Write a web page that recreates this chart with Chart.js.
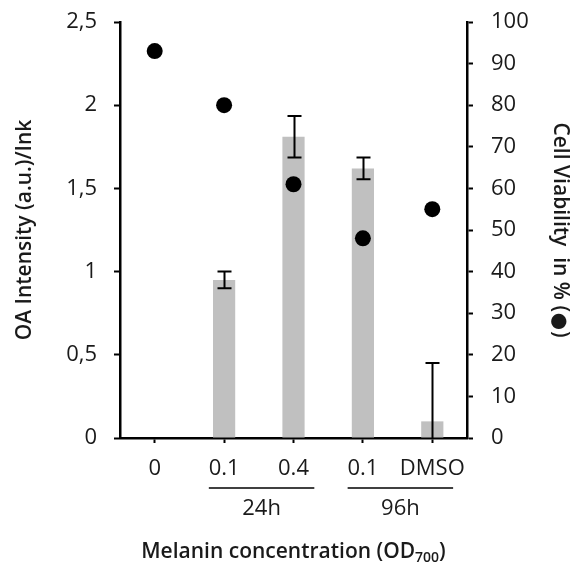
<!DOCTYPE html>
<html>
<head>
<meta charset="utf-8">
<script src="https://cdn.jsdelivr.net/npm/chart.js@4"></script>
<style>
  html, body { margin: 0; padding: 0; background: #fff; }
  #wrap { width: 581px; height: 565px; }
</style>
</head>
<body>
<div id="wrap"><canvas id="chart" width="581" height="565"></canvas></div>
<script>
var categories = ['0', '0.1', '0.4', '0.1', 'DMSO'];
var oaIntensity = [null, 0.95, 1.81, 1.62, 0.10];
var oaError = [null, 0.05, 0.125, 0.065, 0.35];
var viability = [93, 80, 61, 48, 55];
var groupLabels = ['24h', '96h'];
var groupFrom = [1, 3];
var groupTo = [2, 4];

var FONT = "'Open Sans', sans-serif";
var TEXT = '#1a1a1a';

var extras = {
  id: 'extras',
  afterDatasetsDraw: function(chart) {
    var ctx = chart.ctx, x = chart.scales.x, y = chart.scales.y;
    ctx.save();
    ctx.strokeStyle = '#000';
    ctx.lineWidth = 2;
    oaIntensity.forEach(function(v, i) {
      if (v == null) return;
      var px = Math.round(x.getPixelForValue(i)) + 0.5;
      var top = y.getPixelForValue(v + oaError[i]);
      var low = v - oaError[i];
      var bot = y.getPixelForValue(Math.max(low, 0));
      ctx.beginPath();
      ctx.moveTo(px, top); ctx.lineTo(px, bot);
      ctx.moveTo(px - 7, top); ctx.lineTo(px + 7, top);
      if (low > 0) { ctx.moveTo(px - 7, bot); ctx.lineTo(px + 7, bot); }
      ctx.stroke();
    });
    ctx.restore();
  },
  afterDraw: function(chart) {
    var ctx = chart.ctx, x = chart.scales.x, area = chart.chartArea;
    var step = x.getPixelForValue(1) - x.getPixelForValue(0);
    ctx.save();
    ctx.strokeStyle = '#000';
    ctx.lineWidth = 1.5;
    ctx.fillStyle = TEXT;
    ctx.font = '22px ' + FONT;
    ctx.textAlign = 'center';
    ctx.textBaseline = 'middle';
    var lineY = area.bottom + 50;
    groupLabels.forEach(function(lbl, g) {
      var x0 = x.getPixelForValue(groupFrom[g]) - step * 0.22;
      var x1 = x.getPixelForValue(groupTo[g]) + step * 0.3;
      ctx.beginPath();
      ctx.moveTo(x0, lineY); ctx.lineTo(x1, lineY);
      ctx.stroke();
      ctx.fillText(lbl, (x0 + x1) / 2, lineY + 21);
    });
    // x axis title with subscript
    var main = 'Melanin concentration (OD';
    var sub = '700';
    var end = ')';
    ctx.font = '600 21px ' + FONT;
    var wMain = ctx.measureText(main).width;
    var wEnd = ctx.measureText(end).width;
    ctx.font = '600 14px ' + FONT;
    var wSub = ctx.measureText(sub).width;
    var cx = (area.left + area.right) / 2;
    var ty = area.bottom + 113;
    var sx = cx - (wMain + wSub + wEnd) / 2;
    ctx.textAlign = 'left';
    ctx.textBaseline = 'alphabetic';
    ctx.font = '600 21px ' + FONT;
    ctx.fillText(main, sx, ty + 7);
    ctx.font = '600 14px ' + FONT;
    ctx.fillText(sub, sx + wMain, ty + 11);
    ctx.font = '600 21px ' + FONT;
    ctx.fillText(end, sx + wMain + wSub, ty + 7);
    ctx.restore();

    // right axis title, with a bigger dot symbol
    var t1 = 'Cell Viability  in % (';
    var dot = '\u2B24';
    var t2 = ')';
    ctx.save();
    ctx.fillStyle = TEXT;
    ctx.translate(chart.width - 21, (area.top + area.bottom) / 2);
    ctx.rotate(Math.PI / 2);
    ctx.textBaseline = 'middle';
    ctx.textAlign = 'left';
    ctx.font = '600 21px ' + FONT;
    var w1 = ctx.measureText(t1).width;
    var w2 = ctx.measureText(t2).width;
    ctx.font = "15px 'DejaVu Sans', sans-serif";
    var wd = ctx.measureText(dot).width;
    var start = -(w1 + wd + w2 + 2) / 2;
    ctx.font = '600 21px ' + FONT;
    ctx.fillText(t1, start, 0);
    ctx.font = "15px 'DejaVu Sans', sans-serif";
    ctx.fillText(dot, start + w1 + 1, 1);
    ctx.font = '600 21px ' + FONT;
    ctx.fillText(t2, start + w1 + wd + 2, 0);
    ctx.restore();
  }
};

function fitY(width) {
  return function(s) {
    s.width = width;
    s.paddingTop = 0;
    s.paddingBottom = 0;
  };
}

var ctx = document.getElementById('chart').getContext('2d');
var chart = new Chart(ctx, {
  type: 'bar',
  data: {
    labels: categories,
    datasets: [{
      type: 'line',
      label: 'Cell Viability',
      data: viability,
      yAxisID: 'y2',
      showLine: false,
      pointRadius: 8,
      pointHoverRadius: 8,
      pointBackgroundColor: '#000',
      pointBorderColor: '#000',
      pointBorderWidth: 0,
      order: 0
    }, {
      label: 'OA Intensity',
      data: oaIntensity,
      yAxisID: 'y',
      backgroundColor: '#c0c0c0',
      categoryPercentage: 1,
      barPercentage: 0.32,
      order: 1
    }]
  },
  options: {
    responsive: false,
    animation: false,
    layout: { padding: { top: 22, left: 0, right: 0, bottom: 0 } },
    plugins: { legend: { display: false }, tooltip: { enabled: false } },
    scales: {
      x: {
        offset: true,
        afterFit: function(s) { s.height = 127; },
        border: { color: '#000', width: 2.5 },
        grid: { offset: false, drawOnChartArea: false, tickLength: 5, tickWidth: 2, tickColor: '#000' },
        ticks: { color: TEXT, padding: 13, font: { family: FONT, size: 22 }, maxRotation: 0 }
      },
      y: {
        position: 'left',
        min: 0, max: 2.5,
        afterFit: fitY(120),
        border: { color: '#000', width: 2.5 },
        grid: { drawOnChartArea: false, tickLength: 6, tickWidth: 2, tickColor: '#000' },
        ticks: {
          stepSize: 0.5, color: TEXT, padding: 17,
          font: { family: FONT, size: 22 },
          callback: function(v) { return String(v).replace('.', ','); }
        },
        title: {
          display: true, text: 'OA Intensity (a.u.)/Ink', color: TEXT,
          font: { family: FONT, size: 21, weight: '600' }, padding: { top: 12, bottom: 0 }
        }
      },
      y2: {
        position: 'right',
        min: 0, max: 100,
        afterFit: fitY(114),
        border: { color: '#000', width: 2.5 },
        grid: { drawOnChartArea: false, tickLength: 6, tickWidth: 2, tickColor: '#000' },
        ticks: { stepSize: 10, color: TEXT, padding: 18, font: { family: FONT, size: 22 } }
      }
    }
  },
  plugins: [extras]
});
</script>
</body>
</html>
